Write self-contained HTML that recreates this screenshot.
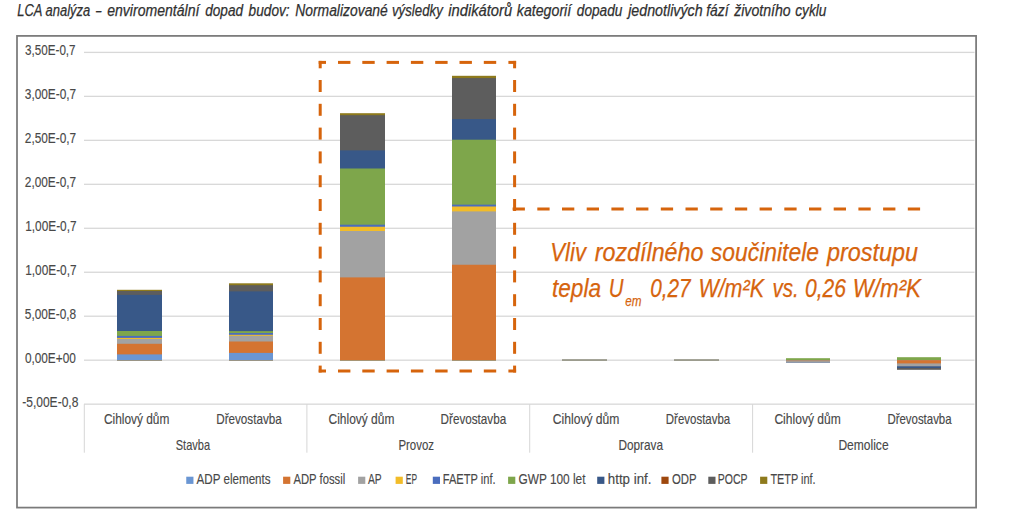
<!DOCTYPE html><html><head><meta charset="utf-8"><style>html,body{margin:0;padding:0;background:#fff;width:1024px;height:513px;overflow:hidden}svg{display:block}text{font-family:"Liberation Sans",sans-serif}</style></head><body>
<svg width="1024" height="513" viewBox="0 0 1024 513">
<rect width="1024" height="513" fill="#fff"/>
<rect x="17" y="35.9" width="959.1" height="471.7" fill="none" stroke="#7a7a7a" stroke-width="1.75"/>
<rect x="84" y="51.75" width="890.5" height="1.3" fill="#d8d8d8"/>
<rect x="84" y="95.72" width="890.5" height="1.3" fill="#d8d8d8"/>
<rect x="84" y="139.69" width="890.5" height="1.3" fill="#d8d8d8"/>
<rect x="84" y="183.66" width="890.5" height="1.3" fill="#d8d8d8"/>
<rect x="84" y="227.63" width="890.5" height="1.3" fill="#d8d8d8"/>
<rect x="84" y="271.60" width="890.5" height="1.3" fill="#d8d8d8"/>
<rect x="84" y="315.57" width="890.5" height="1.3" fill="#d8d8d8"/>
<rect x="84" y="359.54" width="890.5" height="1.3" fill="#d8d8d8"/>
<rect x="84" y="403.51" width="890.5" height="1.3" fill="#d8d8d8"/>
<rect x="83.80" y="404.16" width="1" height="48.54" fill="#d6d6d6"/>
<rect x="306.40" y="404.16" width="1" height="48.54" fill="#d6d6d6"/>
<rect x="529.20" y="404.16" width="1" height="48.54" fill="#d6d6d6"/>
<rect x="752.10" y="404.16" width="1" height="48.54" fill="#d6d6d6"/>
<rect x="117" y="289.8" width="45.00" height="70.40" fill="#8E7A1C"/>
<rect x="117" y="291" width="45.00" height="69.20" fill="#5D5D5D"/>
<rect x="117" y="294.9" width="45.00" height="65.30" fill="#385888"/>
<rect x="117" y="331" width="45.00" height="29.20" fill="#7EA64B"/>
<rect x="117" y="335.9" width="45.00" height="24.30" fill="#4A6DBE"/>
<rect x="117" y="337.9" width="45.00" height="22.30" fill="#F2BC28"/>
<rect x="117" y="339" width="45.00" height="21.20" fill="#A2A2A2"/>
<rect x="117" y="343.8" width="45.00" height="16.40" fill="#D47431"/>
<rect x="117" y="354.4" width="45.00" height="5.80" fill="#6A96D3"/>
<rect x="229" y="283.3" width="44.00" height="76.90" fill="#8E7A1C"/>
<rect x="229" y="285.2" width="44.00" height="75.00" fill="#5D5D5D"/>
<rect x="229" y="291.4" width="44.00" height="68.80" fill="#385888"/>
<rect x="229" y="331.1" width="44.00" height="29.10" fill="#7EA64B"/>
<rect x="229" y="333" width="44.00" height="27.20" fill="#4A6DBE"/>
<rect x="229" y="334.8" width="44.00" height="25.40" fill="#F2BC28"/>
<rect x="229" y="335.8" width="44.00" height="24.40" fill="#A2A2A2"/>
<rect x="229" y="341.5" width="44.00" height="18.70" fill="#D47431"/>
<rect x="229" y="352.9" width="44.00" height="7.30" fill="#6A96D3"/>
<rect x="340" y="113.2" width="45.00" height="247.00" fill="#8E7A1C"/>
<rect x="340" y="115.2" width="45.00" height="245.00" fill="#5D5D5D"/>
<rect x="340" y="150.4" width="45.00" height="209.80" fill="#385888"/>
<rect x="340" y="168.5" width="45.00" height="191.70" fill="#7EA64B"/>
<rect x="340" y="224.7" width="45.00" height="135.50" fill="#4A6DBE"/>
<rect x="340" y="226.75" width="45.00" height="133.45" fill="#F2BC28"/>
<rect x="340" y="231" width="45.00" height="129.20" fill="#A2A2A2"/>
<rect x="340" y="277.4" width="45.00" height="82.80" fill="#D47431"/>
<rect x="452" y="75.8" width="44.00" height="284.40" fill="#8E7A1C"/>
<rect x="452" y="78.1" width="44.00" height="282.10" fill="#5D5D5D"/>
<rect x="452" y="119.1" width="44.00" height="241.10" fill="#385888"/>
<rect x="452" y="139.7" width="44.00" height="220.50" fill="#7EA64B"/>
<rect x="452" y="204.65" width="44.00" height="155.55" fill="#4A6DBE"/>
<rect x="452" y="206.5" width="44.00" height="153.70" fill="#F2BC28"/>
<rect x="452" y="211.4" width="44.00" height="148.80" fill="#A2A2A2"/>
<rect x="452" y="264.75" width="44.00" height="95.45" fill="#D47431"/>
<rect x="562" y="359.1" width="45" height="1.9" fill="#9c9c8e"/>
<rect x="674" y="359.1" width="45" height="1.9" fill="#9c9c8e"/>
<rect x="786" y="358.2" width="44.00" height="2.00" fill="#7EA64B"/>
<rect x="786" y="360.2" width="44.00" height="2.60" fill="#6F7F9C"/>
<rect x="786" y="360.2" width="44.00" height="1.90" fill="#A2A2A2"/>
<rect x="786" y="360.2" width="44.00" height="1.00" fill="#B48A6C"/>
<rect x="897" y="357.2" width="44.00" height="3.00" fill="#7EA64B"/>
<rect x="897" y="360.2" width="44.00" height="9.60" fill="#5D5D5D"/>
<rect x="897" y="360.2" width="44.00" height="7.80" fill="#385888"/>
<rect x="897" y="360.2" width="44.00" height="6.10" fill="#A2A2A2"/>
<rect x="897" y="360.2" width="44.00" height="3.20" fill="#D47431"/>
<rect x="186.25" y="476.7" width="7.2" height="7.2" fill="#6A96D3"/>
<rect x="283.1" y="476.7" width="7.2" height="7.2" fill="#D47431"/>
<rect x="358.1" y="476.7" width="7.2" height="7.2" fill="#A2A2A2"/>
<rect x="395.6" y="476.7" width="7.2" height="7.2" fill="#F2BC28"/>
<rect x="432.8" y="476.7" width="7.2" height="7.2" fill="#4A6DBE"/>
<rect x="508.1" y="476.7" width="7.2" height="7.2" fill="#7EA64B"/>
<rect x="597.2" y="476.7" width="7.2" height="7.2" fill="#385888"/>
<rect x="661.4" y="476.7" width="7.2" height="7.2" fill="#9E480E"/>
<rect x="708.3" y="476.7" width="7.2" height="7.2" fill="#5D5D5D"/>
<rect x="760.1" y="476.7" width="7.2" height="7.2" fill="#8E7A1C"/>
<rect x="318.70" y="60.90" width="7.30" height="3" fill="#D6640C"/>
<rect x="338.00" y="60.90" width="12.40" height="3" fill="#D6640C"/>
<rect x="362.30" y="60.90" width="12.40" height="3" fill="#D6640C"/>
<rect x="386.60" y="60.90" width="12.40" height="3" fill="#D6640C"/>
<rect x="410.90" y="60.90" width="12.40" height="3" fill="#D6640C"/>
<rect x="435.20" y="60.90" width="12.40" height="3" fill="#D6640C"/>
<rect x="459.50" y="60.90" width="12.40" height="3" fill="#D6640C"/>
<rect x="483.80" y="60.90" width="12.40" height="3" fill="#D6640C"/>
<rect x="508.40" y="60.90" width="7.70" height="3" fill="#D6640C"/>
<rect x="318.70" y="369.50" width="7.30" height="3" fill="#D6640C"/>
<rect x="338.00" y="369.50" width="12.40" height="3" fill="#D6640C"/>
<rect x="362.30" y="369.50" width="12.40" height="3" fill="#D6640C"/>
<rect x="386.60" y="369.50" width="12.40" height="3" fill="#D6640C"/>
<rect x="410.90" y="369.50" width="12.40" height="3" fill="#D6640C"/>
<rect x="435.20" y="369.50" width="12.40" height="3" fill="#D6640C"/>
<rect x="459.50" y="369.50" width="12.40" height="3" fill="#D6640C"/>
<rect x="483.80" y="369.50" width="12.40" height="3" fill="#D6640C"/>
<rect x="508.40" y="369.50" width="7.70" height="3" fill="#D6640C"/>
<rect x="318.70" y="60.90" width="3" height="7.40" fill="#D6640C"/>
<rect x="318.70" y="80.00" width="3" height="12.00" fill="#D6640C"/>
<rect x="318.70" y="103.80" width="3" height="12.00" fill="#D6640C"/>
<rect x="318.70" y="127.60" width="3" height="12.00" fill="#D6640C"/>
<rect x="318.70" y="151.40" width="3" height="12.00" fill="#D6640C"/>
<rect x="318.70" y="175.20" width="3" height="12.00" fill="#D6640C"/>
<rect x="318.70" y="199.00" width="3" height="12.00" fill="#D6640C"/>
<rect x="318.70" y="222.80" width="3" height="12.00" fill="#D6640C"/>
<rect x="318.70" y="246.60" width="3" height="12.00" fill="#D6640C"/>
<rect x="318.70" y="270.40" width="3" height="12.00" fill="#D6640C"/>
<rect x="318.70" y="294.20" width="3" height="12.00" fill="#D6640C"/>
<rect x="318.70" y="318.00" width="3" height="12.00" fill="#D6640C"/>
<rect x="318.70" y="341.80" width="3" height="12.00" fill="#D6640C"/>
<rect x="318.70" y="365.60" width="3" height="6.90" fill="#D6640C"/>
<rect x="513.10" y="60.90" width="3" height="7.40" fill="#D6640C"/>
<rect x="513.10" y="80.00" width="3" height="12.00" fill="#D6640C"/>
<rect x="513.10" y="103.80" width="3" height="12.00" fill="#D6640C"/>
<rect x="513.10" y="127.60" width="3" height="12.00" fill="#D6640C"/>
<rect x="513.10" y="151.40" width="3" height="12.00" fill="#D6640C"/>
<rect x="513.10" y="175.20" width="3" height="12.00" fill="#D6640C"/>
<rect x="513.10" y="199.00" width="3" height="12.00" fill="#D6640C"/>
<rect x="513.10" y="222.80" width="3" height="12.00" fill="#D6640C"/>
<rect x="513.10" y="246.60" width="3" height="12.00" fill="#D6640C"/>
<rect x="513.10" y="270.40" width="3" height="12.00" fill="#D6640C"/>
<rect x="513.10" y="294.20" width="3" height="12.00" fill="#D6640C"/>
<rect x="513.10" y="318.00" width="3" height="12.00" fill="#D6640C"/>
<rect x="513.10" y="341.80" width="3" height="12.00" fill="#D6640C"/>
<rect x="513.10" y="365.60" width="3" height="6.90" fill="#D6640C"/>
<rect x="512.60" y="207.50" width="12.30" height="3" fill="#D6640C"/>
<rect x="537.30" y="207.50" width="12.30" height="3" fill="#D6640C"/>
<rect x="562.00" y="207.50" width="12.30" height="3" fill="#D6640C"/>
<rect x="586.70" y="207.50" width="12.30" height="3" fill="#D6640C"/>
<rect x="611.40" y="207.50" width="12.30" height="3" fill="#D6640C"/>
<rect x="636.10" y="207.50" width="12.30" height="3" fill="#D6640C"/>
<rect x="660.80" y="207.50" width="12.30" height="3" fill="#D6640C"/>
<rect x="685.50" y="207.50" width="12.30" height="3" fill="#D6640C"/>
<rect x="710.20" y="207.50" width="12.30" height="3" fill="#D6640C"/>
<rect x="734.90" y="207.50" width="12.30" height="3" fill="#D6640C"/>
<rect x="759.60" y="207.50" width="12.30" height="3" fill="#D6640C"/>
<rect x="784.30" y="207.50" width="12.30" height="3" fill="#D6640C"/>
<rect x="809.00" y="207.50" width="12.30" height="3" fill="#D6640C"/>
<rect x="833.70" y="207.50" width="12.30" height="3" fill="#D6640C"/>
<rect x="858.40" y="207.50" width="12.30" height="3" fill="#D6640C"/>
<rect x="883.10" y="207.50" width="12.30" height="3" fill="#D6640C"/>
<rect x="907.80" y="207.50" width="12.30" height="3" fill="#D6640C"/>
<text x="17.19" y="15.8" font-size="16.3" font-style="italic" fill="#303030" stroke="#303030" stroke-width="0.25" textLength="73.01" lengthAdjust="spacingAndGlyphs">LCA analýza</text>
<text x="96.06" y="15.8" font-size="16.3" font-style="italic" fill="#303030" stroke="#303030" stroke-width="0.25" textLength="5.37" lengthAdjust="spacingAndGlyphs">–</text>
<text x="107.20" y="15.8" font-size="16.3" font-style="italic" fill="#303030" stroke="#303030" stroke-width="0.25" textLength="92.22" lengthAdjust="spacingAndGlyphs">enviromentální</text>
<text x="205.19" y="15.8" font-size="16.3" font-style="italic" fill="#303030" stroke="#303030" stroke-width="0.25" textLength="37.82" lengthAdjust="spacingAndGlyphs">dopad</text>
<text x="248.60" y="15.8" font-size="16.3" font-style="italic" fill="#303030" stroke="#303030" stroke-width="0.25" textLength="41.00" lengthAdjust="spacingAndGlyphs">budov:</text>
<text x="295.20" y="15.8" font-size="16.3" font-style="italic" fill="#303030" stroke="#303030" stroke-width="0.25" textLength="92.61" lengthAdjust="spacingAndGlyphs">Normalizované</text>
<text x="392.00" y="15.8" font-size="16.3" font-style="italic" fill="#303030" stroke="#303030" stroke-width="0.25" textLength="50.81" lengthAdjust="spacingAndGlyphs">výsledky</text>
<text x="448.19" y="15.8" font-size="16.3" font-style="italic" fill="#303030" stroke="#303030" stroke-width="0.25" textLength="64.02" lengthAdjust="spacingAndGlyphs">indikátorů</text>
<text x="516.79" y="15.8" font-size="16.3" font-style="italic" fill="#303030" stroke="#303030" stroke-width="0.25" textLength="54.44" lengthAdjust="spacingAndGlyphs">kategorií</text>
<text x="576.79" y="15.8" font-size="16.3" font-style="italic" fill="#303030" stroke="#303030" stroke-width="0.25" textLength="45.61" lengthAdjust="spacingAndGlyphs">dopadu</text>
<text x="628.15" y="15.8" font-size="16.3" font-style="italic" fill="#303030" stroke="#303030" stroke-width="0.25" textLength="74.45" lengthAdjust="spacingAndGlyphs">jednotlivých</text>
<text x="706.16" y="15.8" font-size="16.3" font-style="italic" fill="#303030" stroke="#303030" stroke-width="0.25" textLength="22.33" lengthAdjust="spacingAndGlyphs">fází</text>
<text x="734.18" y="15.8" font-size="16.3" font-style="italic" fill="#303030" stroke="#303030" stroke-width="0.25" textLength="56.44" lengthAdjust="spacingAndGlyphs">životního</text>
<text x="795.20" y="15.8" font-size="16.3" font-style="italic" fill="#303030" stroke="#303030" stroke-width="0.25" textLength="31.21" lengthAdjust="spacingAndGlyphs">cyklu</text>
<text x="25.00" y="55.1" font-size="15.5" fill="#484848" stroke="#484848" stroke-width="0.15" textLength="50.61" lengthAdjust="spacingAndGlyphs">3,50E-0,7</text>
<text x="24.79" y="99.07000000000001" font-size="15.5" fill="#484848" stroke="#484848" stroke-width="0.15" textLength="51.43" lengthAdjust="spacingAndGlyphs">3,00E-0,7</text>
<text x="24.79" y="143.04" font-size="15.5" fill="#484848" stroke="#484848" stroke-width="0.15" textLength="51.43" lengthAdjust="spacingAndGlyphs">2,50E-0,7</text>
<text x="24.79" y="187.01" font-size="15.5" fill="#484848" stroke="#484848" stroke-width="0.15" textLength="51.43" lengthAdjust="spacingAndGlyphs">2,00E-0,7</text>
<text x="25.18" y="230.98" font-size="15.5" fill="#484848" stroke="#484848" stroke-width="0.15" textLength="51.42" lengthAdjust="spacingAndGlyphs">1,00E-0,7</text>
<text x="25.18" y="274.95" font-size="15.5" fill="#484848" stroke="#484848" stroke-width="0.15" textLength="51.42" lengthAdjust="spacingAndGlyphs">1,00E-0,7</text>
<text x="24.80" y="318.91999999999996" font-size="15.5" fill="#484848" stroke="#484848" stroke-width="0.15" textLength="51.41" lengthAdjust="spacingAndGlyphs">5,00E-0,8</text>
<text x="24.89" y="362.88999999999993" font-size="15.5" fill="#484848" stroke="#484848" stroke-width="0.15" textLength="50.93" lengthAdjust="spacingAndGlyphs">0,00E+00</text>
<text x="22.19" y="406.85999999999996" font-size="15.5" fill="#484848" stroke="#484848" stroke-width="0.15" textLength="56.21" lengthAdjust="spacingAndGlyphs">-5,00E-0,8</text>
<text x="103.99" y="424.4" font-size="14.8" fill="#484848" stroke="#484848" stroke-width="0.15" textLength="65.41" lengthAdjust="spacingAndGlyphs">Cihlový dům</text>
<text x="216.19" y="424.4" font-size="14.8" fill="#484848" stroke="#484848" stroke-width="0.15" textLength="65.61" lengthAdjust="spacingAndGlyphs">Dřevostavba</text>
<text x="328.59" y="424.4" font-size="14.8" fill="#484848" stroke="#484848" stroke-width="0.15" textLength="65.81" lengthAdjust="spacingAndGlyphs">Cihlový dům</text>
<text x="440.59" y="424.4" font-size="14.8" fill="#484848" stroke="#484848" stroke-width="0.15" textLength="65.61" lengthAdjust="spacingAndGlyphs">Dřevostavba</text>
<text x="552.80" y="424.4" font-size="14.8" fill="#484848" stroke="#484848" stroke-width="0.15" textLength="66.62" lengthAdjust="spacingAndGlyphs">Cihlový dům</text>
<text x="665.80" y="424.4" font-size="14.8" fill="#484848" stroke="#484848" stroke-width="0.15" textLength="64.41" lengthAdjust="spacingAndGlyphs">Dřevostavba</text>
<text x="774.40" y="424.4" font-size="14.8" fill="#484848" stroke="#484848" stroke-width="0.15" textLength="66.41" lengthAdjust="spacingAndGlyphs">Cihlový dům</text>
<text x="887.39" y="424.4" font-size="14.8" fill="#484848" stroke="#484848" stroke-width="0.15" textLength="64.22" lengthAdjust="spacingAndGlyphs">Dřevostavba</text>
<text x="175.78" y="450.4" font-size="14.8" fill="#484848" stroke="#484848" stroke-width="0.15" textLength="34.24" lengthAdjust="spacingAndGlyphs">Stavba</text>
<text x="398.38" y="450.4" font-size="14.8" fill="#484848" stroke="#484848" stroke-width="0.15" textLength="35.62" lengthAdjust="spacingAndGlyphs">Provoz</text>
<text x="618.40" y="450.4" font-size="14.8" fill="#484848" stroke="#484848" stroke-width="0.15" textLength="44.60" lengthAdjust="spacingAndGlyphs">Doprava</text>
<text x="838.39" y="450.4" font-size="14.8" fill="#484848" stroke="#484848" stroke-width="0.15" textLength="50.21" lengthAdjust="spacingAndGlyphs">Demolice</text>
<text x="196.59" y="484.4" font-size="14.5" fill="#484848" stroke="#484848" stroke-width="0.15" textLength="74.01" lengthAdjust="spacingAndGlyphs">ADP elements</text>
<text x="293.48" y="484.4" font-size="14.5" fill="#484848" stroke="#484848" stroke-width="0.15" textLength="51.73" lengthAdjust="spacingAndGlyphs">ADP fossil</text>
<text x="367.94" y="484.4" font-size="14.5" fill="#484848" stroke="#484848" stroke-width="0.15" textLength="13.71" lengthAdjust="spacingAndGlyphs">AP</text>
<text x="405.79" y="484.4" font-size="14.5" fill="#484848" stroke="#484848" stroke-width="0.15" textLength="11.25" lengthAdjust="spacingAndGlyphs">EP</text>
<text x="442.79" y="484.4" font-size="14.5" fill="#484848" stroke="#484848" stroke-width="0.15" textLength="52.81" lengthAdjust="spacingAndGlyphs">FAETP inf.</text>
<text x="518.50" y="484.4" font-size="14.5" fill="#484848" stroke="#484848" stroke-width="0.15" textLength="67.01" lengthAdjust="spacingAndGlyphs">GWP 100 let</text>
<text x="607.80" y="484.4" font-size="14.5" fill="#484848" stroke="#484848" stroke-width="0.15" textLength="43.63" lengthAdjust="spacingAndGlyphs">http inf.</text>
<text x="671.98" y="484.4" font-size="14.5" fill="#484848" stroke="#484848" stroke-width="0.15" textLength="24.62" lengthAdjust="spacingAndGlyphs">ODP</text>
<text x="717.79" y="484.4" font-size="14.5" fill="#484848" stroke="#484848" stroke-width="0.15" textLength="29.81" lengthAdjust="spacingAndGlyphs">POCP</text>
<text x="770.39" y="484.4" font-size="14.5" fill="#484848" stroke="#484848" stroke-width="0.15" textLength="45.22" lengthAdjust="spacingAndGlyphs">TETP inf.</text>
<text x="550.33" y="260.5" font-size="25" font-style="italic" fill="#D6640E" stroke="#D6640E" stroke-width="0.25" textLength="35.64" lengthAdjust="spacingAndGlyphs">Vliv</text>
<text x="594.80" y="260.5" font-size="25" font-style="italic" fill="#D6640E" stroke="#D6640E" stroke-width="0.25" textLength="108.61" lengthAdjust="spacingAndGlyphs">rozdílného</text>
<text x="710.80" y="260.5" font-size="25" font-style="italic" fill="#D6640E" stroke="#D6640E" stroke-width="0.25" textLength="108.20" lengthAdjust="spacingAndGlyphs">součinitele</text>
<text x="826.99" y="260.5" font-size="25" font-style="italic" fill="#D6640E" stroke="#D6640E" stroke-width="0.25" textLength="91.02" lengthAdjust="spacingAndGlyphs">prostupu</text>
<text x="552.00" y="296.8" font-size="25" font-style="italic" fill="#D6640E" stroke="#D6640E" stroke-width="0.25" textLength="49.02" lengthAdjust="spacingAndGlyphs">tepla</text>
<text x="608.72" y="296.8" font-size="25" font-style="italic" fill="#D6640E" stroke="#D6640E" stroke-width="0.25" textLength="14.69" lengthAdjust="spacingAndGlyphs">U</text>
<text x="650.21" y="296.8" font-size="25" font-style="italic" fill="#D6640E" stroke="#D6640E" stroke-width="0.25" textLength="40.43" lengthAdjust="spacingAndGlyphs">0,27</text>
<text x="698.39" y="296.8" font-size="25" font-style="italic" fill="#D6640E" stroke="#D6640E" stroke-width="0.25" textLength="65.61" lengthAdjust="spacingAndGlyphs">W/m²K</text>
<text x="772.50" y="296.8" font-size="25" font-style="italic" fill="#D6640E" stroke="#D6640E" stroke-width="0.25" textLength="26.25" lengthAdjust="spacingAndGlyphs">vs.</text>
<text x="805.00" y="296.8" font-size="25" font-style="italic" fill="#D6640E" stroke="#D6640E" stroke-width="0.25" textLength="41.00" lengthAdjust="spacingAndGlyphs">0,26</text>
<text x="852.77" y="296.8" font-size="25" font-style="italic" fill="#D6640E" stroke="#D6640E" stroke-width="0.25" textLength="68.22" lengthAdjust="spacingAndGlyphs">W/m²K</text>
<text x="625.16" y="306.1" font-size="15" font-style="italic" fill="#D6640E" stroke="#D6640E" stroke-width="0.25" textLength="16.27" lengthAdjust="spacingAndGlyphs">em</text>
</svg></body></html>
